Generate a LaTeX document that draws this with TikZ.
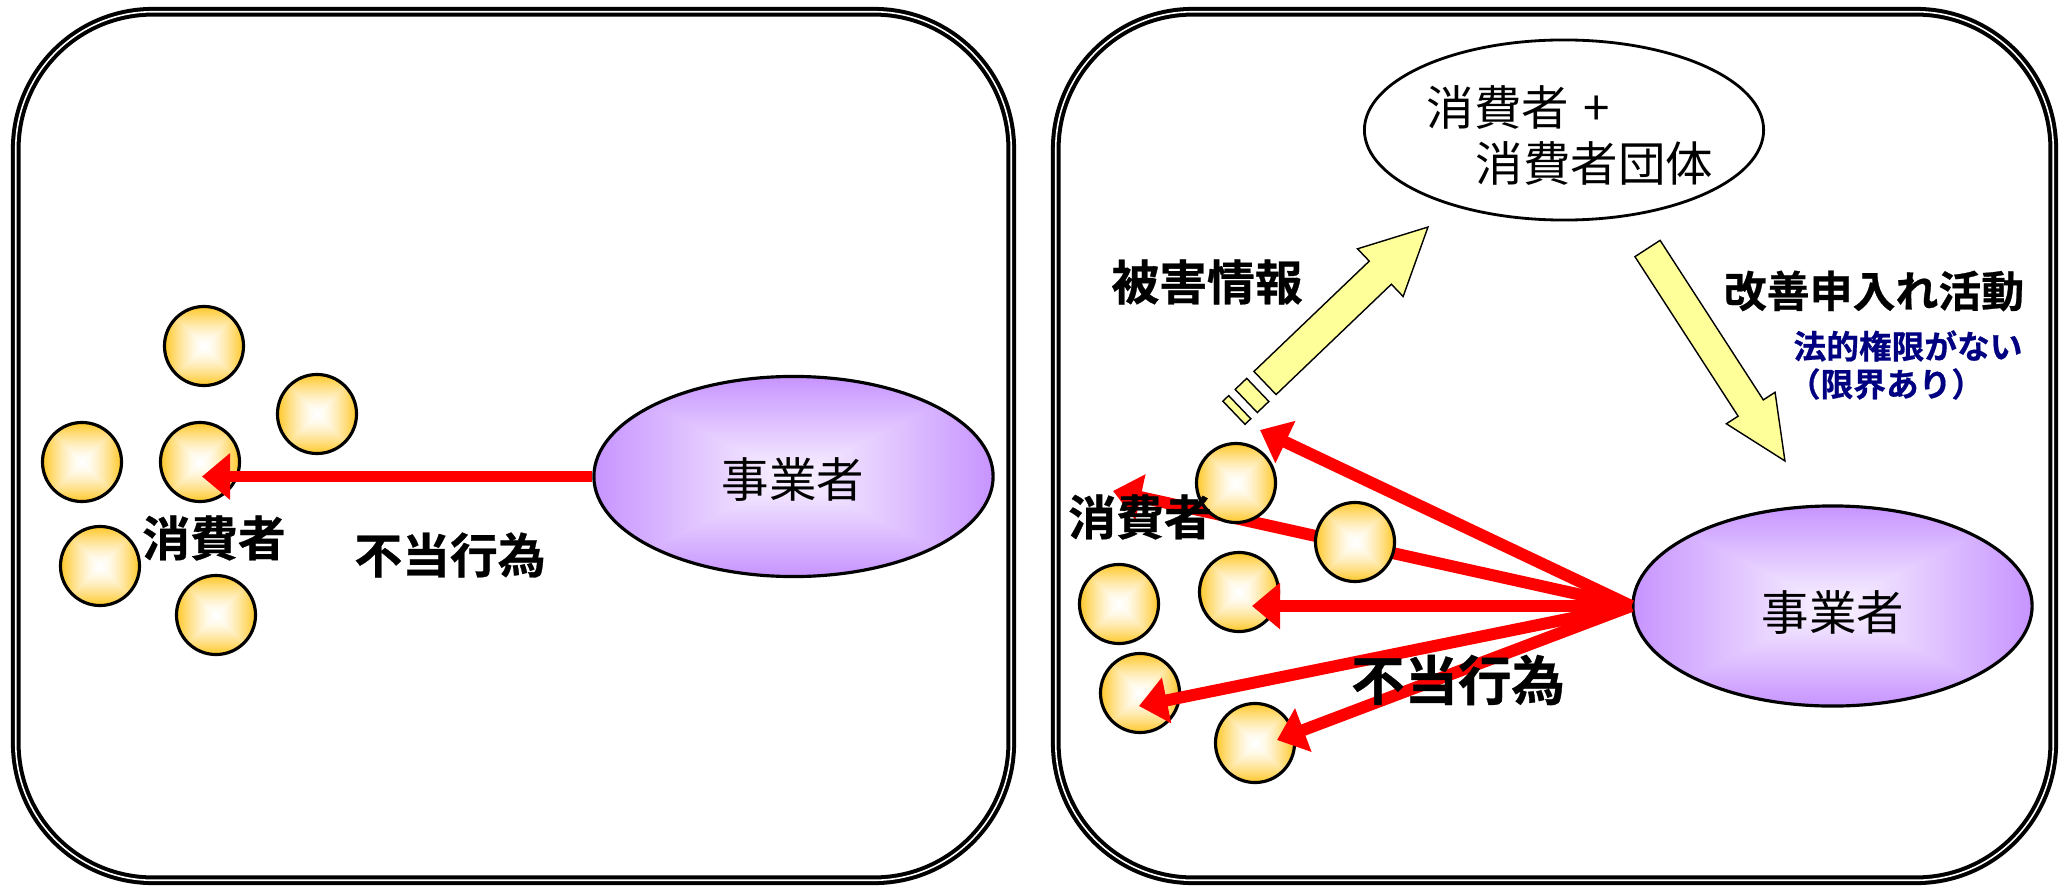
\documentclass[tikz,border=0pt]{standalone}
\usepackage{fontspec}
\newfontfamily\jp{Noto Sans CJK JP}
\newfontfamily\jpb{Noto Sans CJK JP Bold}[FakeBold=0.6]
\usetikzlibrary{arrows.meta,shapes.geometric}
\definecolor{arrowyellow}{RGB}{255,255,153}
\definecolor{navytext}{RGB}{0,0,128}
\definecolor{redarrow}{RGB}{255,0,0}
\pgfdeclarefunctionalshading{goldball}{\pgfpoint{-50bp}{-50bp}}{\pgfpoint{50bp}{50bp}}{}{
 abs exch abs 2 copy lt {exch} if pop 25 div dup 1 gt {pop 1} if dup sqrt mul
 1 exch dup 0.22 mul 1 exch sub exch 0.85 mul 1 exch sub}
\pgfdeclarefunctionalshading{purplebiz}{\pgfpoint{-50bp}{-50bp}}{\pgfpoint{50bp}{50bp}}{}{
 abs exch abs 2 copy lt {exch} if pop 25 div dup 1 gt {pop 1} if
 dup 0.2 mul 0.98 exch sub exch dup 0.38 mul 0.96 exch sub exch pop 1}
\begin{document}
\begin{tikzpicture}[x=0.01cm,y=-0.01cm,
  panel/.style={draw=black, line width=1.15pt, double=white, double distance=0.45pt, rounded corners=1.37cm},
  consumer/.style={circle, draw=black, line width=0.9pt, minimum size=0.79cm, inner sep=0pt, shading=goldball},
  biz/.style={ellipse, draw=black, line width=0.9pt, minimum width=3.99cm, minimum height=2.0cm, inner sep=0pt, shading=purplebiz},
  grp/.style={ellipse, draw=black, line width=0.8pt, fill=white, minimum width=3.99cm, minimum height=1.8cm, inner sep=0pt},
  yarrow/.style={draw=black, line width=0.4pt, fill=arrowyellow},
  redarr/.style={draw=redarrow, line width=3.4pt, -{Triangle[length=8pt,width=12.8pt]}},
  plainlbl/.style={font=\jp\fontsize{13.5pt}{16pt}\selectfont, inner sep=0pt},
  boldlbl/.style={font=\jpb\fontsize{13.6pt}{16pt}\selectfont, inner sep=0pt},
  bigbold/.style={font=\jpb\fontsize{15.2pt}{18pt}\selectfont, inner sep=0pt},
  kaizenlbl/.style={font=\jpb\fontsize{12.2pt}{14pt}\selectfont, inner sep=0pt},
  navylbl/.style={font=\jpb\fontsize{9.3pt}{11pt}\selectfont, text=navytext, inner sep=0pt}]
\useasboundingbox (0,0) rectangle (2067,894);

% ---------- left panel ----------
\draw[panel] (15.75,11.75) rectangle (1011.25,880.25);
\node[biz] (lbiz) at (793.5,476.5) {};
\node[plainlbl] (lbiztxt) at (793,480) {事業者};
\node[consumer] (lc1) at (204,346) {};
\node[consumer] (lc2) at (317,414) {};
\node[consumer] (lc3) at (82,462) {};
\node[consumer] (lc4) at (200,462) {};
\node[consumer] (lc5) at (100,566) {};
\node[consumer] (lc6) at (216,615) {};
\coordinate (ltip) at (202,476.5);
\draw[redarr] (lbiz.west) -- (ltip);
\node[boldlbl] (lcons) at (214,538) {消費者};
\node[boldlbl] (lfutou) at (450,555) {不当行為};

% ---------- right panel ----------
\draw[panel] (1055.75,11.75) rectangle (2053.25,880.25);
\node[grp] (grp) at (1564,130) {};
\node[plainlbl, anchor=west] (grpl1) at (1426,107.5) {消費者\hspace{0.3em}+};
\node[plainlbl, anchor=west] (grpl2) at (1475,163.5) {消費者団体};

% yellow arrow: damage information up to the group
\begin{scope}[shift={(1265,383)},rotate=43.74]
  \draw[yarrow] (0,-16) -- (159.6,-16) -- (159.6,-33) -- (225.6,0) -- (159.6,33) -- (159.6,16) -- (0,16) -- cycle;
  \draw[yarrow] (-26,-16) rectangle (-10,16);
  \draw[yarrow] (-43,-16) rectangle (-35,16);
\end{scope}
% yellow arrow: improvement requests down to the business
\begin{scope}[shift={(1647.5,248.5)},rotate=-57.1]
  \draw[yarrow] (0,-15) -- (190,-15) -- (190,-29) -- (253,0) -- (190,29) -- (190,15) -- (0,15) -- cycle;
\end{scope}

\node[boldlbl] (higai) at (1207,282) {被害情報};
\node[kaizenlbl] (kaizen) at (1874,291) {改善申入れ活動};
\node[navylbl] (houteki) at (1908,346) {法的権限がない};
\node[navylbl] (genkai) at (1886,384) {（限界あり）};

\node[biz] (rbiz) at (1832.5,606) {};
\node[plainlbl] (rbiztxt) at (1833,612) {事業者};

\coordinate (rt1) at (1260,430);
\coordinate (rt2) at (1113,491);
\coordinate (rt3) at (1252,606);
\coordinate (rt4) at (1139,706);
\coordinate (rt5) at (1277,740);

\draw[redarr] (rbiz.west) -- (rt2);
\node[consumer] (rc1) at (1236,483) {};
\node[consumer] (rc2) at (1355,542) {};
\node[consumer] (rc3) at (1239,592) {};
\node[consumer] (rc4) at (1119,604) {};
\node[consumer] (rc5) at (1140,693) {};
\node[consumer] (rc6) at (1255,743) {};
\draw[redarr] (rbiz.west) -- (rt1);
\draw[redarr] (rbiz.west) -- (rt3);
\draw[redarr] (rbiz.west) -- (rt4);
\draw[redarr] (rbiz.west) -- (rt5);

\node[boldlbl] (rcons) at (1140,517) {消費者};
\node[bigbold] (rfutou) at (1458,680) {不当行為};
\end{tikzpicture}
\end{document}
